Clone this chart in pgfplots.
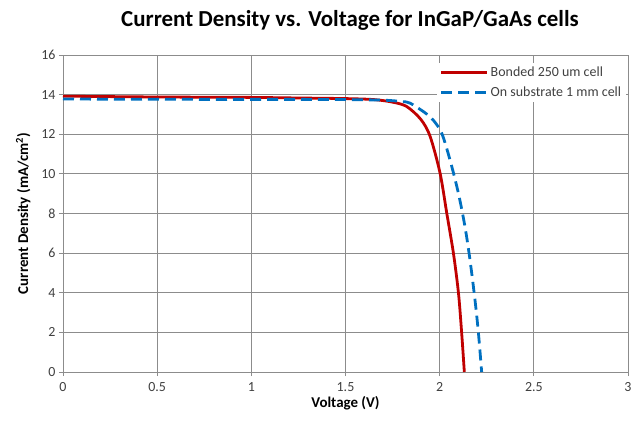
\documentclass[border=0pt]{standalone}
\usepackage{pgfplots}
\pgfplotsset{compat=1.18}
\usepackage{fontspec}
\setmainfont{Carlito}
\definecolor{cred}{RGB}{192,0,0}
\definecolor{cblue}{RGB}{0,112,192}
\definecolor{cgrid}{RGB}{140,140,140}
\begin{document}
\begin{tikzpicture}
\useasboundingbox (-63bp,-54bp) rectangle (570bp,372bp);
\begin{axis}[
  at={(0,0)}, anchor=south west,
  scale only axis, width=565bp, height=317bp,
  xmin=0, xmax=3, ymin=0, ymax=16,
  xtick={0,0.5,...,3}, ytick={0,2,...,16},
  xticklabels={0,0.5,1,1.5,2,2.5,3},
  grid=major, grid style={cgrid, line width=0.9pt},
  axis line style={cgrid, line width=0.9pt},
  axis x line*=bottom, axis y line*=left,
  tick style={cgrid, line width=0.9pt},
  tick align=outside, major tick length=4bp,
  every tick label/.style={font=\fontsize{14}{16}\selectfont, text=black!75},
  xticklabel style={yshift=-3bp},
  /pgf/number format/assume math mode=true,
  xlabel={\bfseries Voltage (V)},
  ylabel={\bfseries Current Density (mA/cm\textsuperscript{2})},
  xlabel style={font=\fontsize{15}{17}\selectfont, yshift=2bp},
  ylabel style={font=\fontsize{15}{17}\selectfont, yshift=4bp},
  legend style={at={(0.997,0.975)}, anchor=north east, draw=none, fill=white,
    font=\fontsize{14}{16}\selectfont, text=black!75, row sep=5bp,
    legend cell align=left},
  legend image code/.code={\draw[#1] (0bp,0bp) -- (46bp,0bp);},
  clip=false,
]
\addplot[cred, line width=2.8pt, smooth] coordinates {
(0,13.92) (0.25,13.9) (0.5,13.88) (0.75,13.87) (1,13.86) (1.25,13.83) (1.5,13.8)
(1.65,13.75) (1.75,13.62) (1.825,13.4) (1.9,12.75) (1.949,11.9) (2.002,10.04)
(2.038,8.0) (2.073,6.0) (2.10,3.97) (2.117,1.95) (2.131,0)
};
\addlegendentry{Bonded 250 um cell}
\addplot[cblue, line width=2.8pt, dash pattern=on 11bp off 6bp, smooth] coordinates {
(0,13.78) (0.25,13.77) (0.5,13.77) (0.75,13.76) (1,13.76) (1.25,13.76) (1.5,13.75)
(1.7,13.72) (1.8,13.65) (1.843,13.57) (1.92,13.1) (1.967,12.7) (2.011,12.05)
(2.055,10.7) (2.10,9.0) (2.135,7.3) (2.161,5.66) (2.188,3.6) (2.206,1.95) (2.223,0)
};
\addlegendentry{On substrate 1 mm cell}
\end{axis}
\node[font=\bfseries\fontsize{23}{27}\selectfont, anchor=center] at (287bp,352bp) {Current Density vs. Voltage for InGaP/GaAs cells};
\end{tikzpicture}
\end{document}
